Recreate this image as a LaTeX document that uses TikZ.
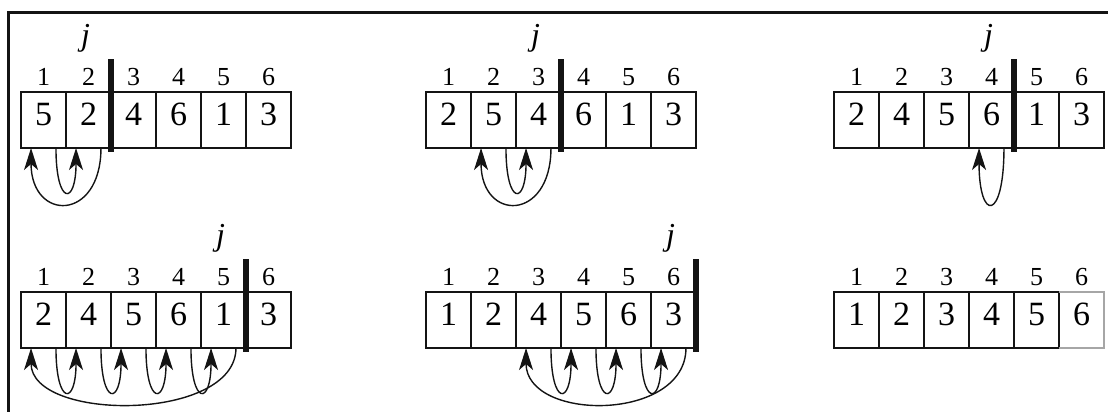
\documentclass[tikz,border=0pt]{standalone}
\usepackage{fontspec}
\setmainfont{Liberation Serif}
\usetikzlibrary{arrows.meta,calc}
\definecolor{ink}{RGB}{20,20,20}
\tikzset{
  cell/.style={draw=ink,line width=0.8pt,minimum width=22.5pt,minimum height=28pt,
    inner sep=0pt,outer sep=0pt,text height=11.5pt,text depth=6.5pt,
    font=\fontsize{17}{17}\selectfont},
  idx/.style={anchor=base,inner sep=0pt,font=\fontsize{13}{13}\selectfont},
  jlab/.style={anchor=base,inner sep=0pt,font=\fontsize{16}{16}\selectfont\itshape},
  jbar/.style={draw=ink,line width=2.6pt},
  mv/.style={-{Stealth[length=11pt,width=7pt,inset=3pt]},line width=0.7pt,ink},
  edgeline/.style={draw=ink,line width=1.5pt},
}
% one array of six cells with its indices above
\newcommand{\cells}[4]{%
  \foreach \v [count=\i] in {#4}{
    \node[cell] (#1\i) at ({#2+22.5+45*(\i-1)},#3) {\v};
    \node[idx] (#1n\i) at ($(#1\i.north)+(0,7)$) {\i};
  }}
\newcommand{\shiftarc}[2]{\draw[mv] (#1.-66) .. controls +(0,-58) and +(0,-58) .. (#2.-114);}
\newcommand{\keyarc}[2]{\draw[mv] (#1.-66) .. controls +(0,-74) and +(0,-74) .. (#2.-114);}

\begin{document}
\begin{tikzpicture}[x=0.5pt,y=0.5pt]
\useasboundingbox (0,0) rectangle (1108,-412);
\draw[edgeline] (8,-412) -- (8,-12) -- (1108,-12);

% ---- top row ----
\cells{a}{21}{-120}{5,2,4,6,1,3}
\cells{b}{426}{-120}{2,5,4,6,1,3}
\cells{c}{834}{-120}{2,4,5,6,1,3}

% ---- bottom row ----
\cells{d}{21}{-320}{2,4,5,6,1,3}
\cells{e}{426}{-320}{1,2,4,5,6,3}
\cells{f}{834}{-320}{1,2,3,4,5,6}
\draw[gray!70,line width=0.8pt] (f5.north east) -- (f6.north east) -- (f6.south east) -- (f5.south east);

% ---- j and the bar after it ----
\node[jlab] (ja) at ($(a2.north)+(-3,47)$) {j};
\node[jlab] (jb) at ($(b3.north)+(-3,47)$) {j};
\node[jlab] (jc) at ($(c4.north)+(-3,47)$) {j};
\node[jlab] (jd) at ($(d5.north)+(-3,47)$) {j};
\node[jlab] (je) at ($(e6.north)+(-3,47)$) {j};
\draw[jbar] ($(a2.north east)+(0,33)$) -- ($(a2.south east)+(0,-4)$);
\draw[jbar] ($(b3.north east)+(0,33)$) -- ($(b3.south east)+(0,-4)$);
\draw[jbar] ($(c4.north east)+(0,33)$) -- ($(c4.south east)+(0,-4)$);
\draw[jbar] ($(d5.north east)+(0,33)$) -- ($(d5.south east)+(0,-4)$);
\draw[jbar] ($(e6.north east)+(0,33)$) -- ($(e6.south east)+(0,-4)$);

% ---- moves ----
\shiftarc{a1}{a2}
\keyarc{a2}{a1}
\shiftarc{b2}{b3}
\keyarc{b3}{b2}
\keyarc{c4}{c4}
\foreach \i/\k in {1/2,2/3,3/4,4/5} {\shiftarc{d\i}{d\k}}
\keyarc{d5}{d1}
\foreach \i/\k in {3/4,4/5,5/6} {\shiftarc{e\i}{e\k}}
\keyarc{e6}{e3}
\end{tikzpicture}
\end{document}
